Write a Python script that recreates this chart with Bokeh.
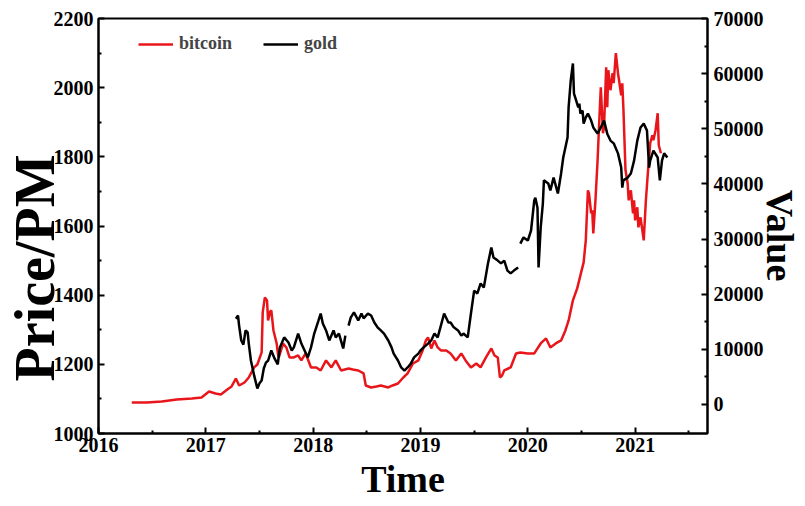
import numpy as np
from bokeh.plotting import figure
from bokeh.models import Range1d, LinearAxis, FixedTicker, Legend, LegendItem
from bokeh.embed import file_html
from bokeh.resources import INLINE

NaN = float("nan")

# Bitcoin value (right axis), by decimal year
btc_year = [
    2016.31, 2016.45, 2016.59, 2016.73, 2016.87, 2016.96, 2017.03, 2017.09, 2017.14, 2017.20,
    2017.24, 2017.28, 2017.31, 2017.36, 2017.40, 2017.42, 2017.45, 2017.48, 2017.52, 2017.53,
    2017.55, 2017.57, 2017.58, 2017.60, 2017.61, 2017.63, 2017.66, 2017.67, 2017.68, 2017.70,
    2017.72, 2017.75, 2017.78, 2017.82, 2017.86, 2017.89, 2017.93, 2017.98, 2018.03, 2018.07,
    2018.12, 2018.17, 2018.21, 2018.26, 2018.33, 2018.37, 2018.42, 2018.47, 2018.49, 2018.54,
    2018.59, 2018.63, 2018.70, 2018.74, 2018.79, 2018.84, 2018.88, 2018.93, 2018.98, 2019.02,
    2019.05, 2019.07, 2019.10, 2019.13, 2019.16, 2019.19, 2019.24, 2019.28, 2019.33, 2019.38,
    2019.42, 2019.47, 2019.52, 2019.56, 2019.61, 2019.66, 2019.69, 2019.72, 2019.74, 2019.76,
    2019.78, 2019.84, 2019.89, 2019.93, 2020.00, 2020.06, 2020.12, 2020.17, 2020.21, 2020.26,
    2020.31, 2020.35, 2020.38, 2020.42, 2020.46, 2020.49, 2020.52, 2020.54, 2020.56, 2020.57,
    2020.59, 2020.60, 2020.61, 2020.63, 2020.65, 2020.67, 2020.68, 2020.70, 2020.71, 2020.73,
    2020.74, 2020.75, 2020.77, 2020.79, 2020.80, 2020.82, 2020.84, 2020.85, 2020.87, 2020.88,
    2020.89, 2020.91, 2020.93, 2020.94, 2020.96, 2020.98, 2020.99, 2021.00, 2021.02, 2021.03,
    2021.05, 2021.08, 2021.10, 2021.12, 2021.13, 2021.14, 2021.16, 2021.17, 2021.19, 2021.21,
    2021.22, 2021.24,
]
btc_value = [
    360, 360, 540, 910, 1090, 1270, 2360, 2000, 1820, 2720,
    3270, 4720, 3450, 3990, 4900, 5630, 6720, 7260, 9440, 16700,
    19420, 18880, 15250, 16880, 17060, 13430, 11070, 9440, 8530, 9800,
    11070, 10350, 8530, 8530, 8890, 7990, 9260, 6720, 6720, 6170,
    7990, 6720, 7990, 6170, 6530, 6350, 6170, 5630, 3450, 3090,
    3270, 3450, 3090, 3450, 3810, 4900, 5630, 7440, 7990, 9800,
    11620, 12160, 10160, 11620, 10350, 9800, 9800, 9260, 7990, 9260,
    7990, 6720, 7440, 6720, 8530, 10160, 8890, 8530, 4900, 5260,
    6170, 6720, 9260, 9440, 9260, 9260, 11070, 11980, 10350, 11070,
    11620, 13430, 15250, 18880, 21050, 23410, 25770, 29770, 38840, 38300,
    34670, 35210, 31040, 37030, 44290, 53360, 57540, 49190, 50280, 61170,
    53910, 60620, 56990, 60080, 58260, 63710, 60080, 58810, 56080, 58260,
    53910, 42470, 40110, 37030, 38840, 34670, 37030, 33400, 35760, 32130,
    33940, 29770, 37030, 42470, 44830, 47370, 48820, 47920, 49730, 52820,
    47010, 45560,
]

# Gold price (left axis), by decimal year; NaN marks gaps in the series
gold_year = [
    2017.28, 2017.30, 2017.31, 2017.33, 2017.35, 2017.37, 2017.39, 2017.40, 2017.42, 2017.45,
    2017.48, 2017.50, 2017.52, 2017.54, 2017.56, 2017.58, 2017.61, 2017.64, 2017.67, 2017.69,
    2017.71, 2017.73, 2017.77, 2017.80, 2017.82, 2017.86, 2017.89, 2017.92, 2017.95, 2017.98,
    2018.01, 2018.05, 2018.07, 2018.09, 2018.12, 2018.15, 2018.19, 2018.21, 2018.24, 2018.28,
    2018.30, 2018.315, 2018.33, 2018.35, 2018.38, 2018.42, 2018.45, 2018.47, 2018.51, 2018.54,
    2018.57, 2018.60, 2018.63, 2018.66, 2018.70, 2018.73, 2018.75, 2018.79, 2018.82, 2018.85,
    2018.88, 2018.91, 2018.94, 2018.98, 2019.00, 2019.03, 2019.07, 2019.10, 2019.13, 2019.16,
    2019.19, 2019.22, 2019.26, 2019.28, 2019.31, 2019.35, 2019.38, 2019.40, 2019.44, 2019.47,
    2019.50, 2019.53, 2019.56, 2019.59, 2019.63, 2019.66, 2019.68, 2019.72, 2019.75, 2019.78,
    2019.81, 2019.84, 2019.87, 2019.91, 2019.92, 2019.93, 2019.96, 2020.00, 2020.03, 2020.06,
    2020.07, 2020.09, 2020.10, 2020.12, 2020.14, 2020.15, 2020.19, 2020.21, 2020.24, 2020.28,
    2020.31, 2020.33, 2020.37, 2020.38, 2020.40, 2020.42, 2020.43, 2020.45, 2020.47, 2020.48,
    2020.49, 2020.51, 2020.52, 2020.54, 2020.56, 2020.59, 2020.61, 2020.65, 2020.68, 2020.71,
    2020.74, 2020.77, 2020.80, 2020.84, 2020.87, 2020.88, 2020.89, 2020.93, 2020.96, 2020.99,
    2021.02, 2021.05, 2021.08, 2021.11, 2021.13, 2021.14, 2021.17, 2021.21, 2021.23, 2021.25,
    2021.27, 2021.30,
]
gold_price = [
    1332, 1341, 1312, 1269, 1257, 1298, 1292, 1260, 1211, 1168,
    1130, 1145, 1153, 1188, 1205, 1211, 1240, 1217, 1200, 1249,
    1263, 1278, 1263, 1240, 1249, 1289, 1260, 1240, 1220, 1249,
    1289, 1327, 1347, 1318, 1298, 1269, 1298, 1278, 1289, 1246,
    1283, NaN, 1312, 1335, 1350, 1327, 1347, 1333, 1347, 1341,
    1321, 1307, 1298, 1289, 1269, 1249, 1231, 1211, 1191, 1182,
    1191, 1202, 1220, 1231, 1240, 1249, 1260, 1269, 1289, 1278,
    1312, 1347, 1321, 1321, 1307, 1298, 1283, 1289, 1278, 1347,
    1413, 1405, 1434, 1422, 1494, 1538, 1509, 1500, 1492, 1500,
    1471, 1463, 1471, 1480, NaN, 1549, 1567, 1558, 1587, 1674,
    1682, 1653, 1480, 1596, 1665, 1732, 1723, 1703, 1740, 1694,
    1752, 1798, 1856, 1943, 2021, 2070, 1983, 1963, 1943, 1954,
    1925, 1934, 1896, 1914, 1925, 1905, 1885, 1867, 1885, 1905,
    1867, 1847, 1839, 1810, 1769, 1711, 1732, 1740, 1752, 1789,
    1847, 1885, 1896, 1876, 1769, 1789, 1818, 1798, 1732, 1789,
    1810, 1798,
]

year_ticks = [2016, 2017, 2018, 2019, 2020, 2021]
year_minor = [2016.5, 2017.5, 2018.5, 2019.5, 2020.5, 2021.5]
price_ticks = [1000, 1200, 1400, 1600, 1800, 2000, 2200]
price_minor = [1100, 1300, 1500, 1700, 1900, 2100]
value_ticks = [0, 10000, 20000, 30000, 40000, 50000, 60000, 70000]
value_minor = [5000, 15000, 25000, 35000, 45000, 55000, 65000]

SERIF = "Liberation Serif"
RED = "#e8161b"
NBSP = "\u00a0"

p = figure(
    width=805, height=506, output_backend="svg", toolbar_location=None, title=None,
    x_range=Range1d(2016, 2021.674), y_range=Range1d(1000, 2200),
    min_border_left=97, min_border_right=98, min_border_top=18, min_border_bottom=73,
)
p.background_fill_color = "white"
p.border_fill_color = "white"
p.outline_line_color = "black"
p.outline_line_width = 2
p.xgrid.visible = False
p.ygrid.visible = False

p.extra_y_ranges = {"btc": Range1d(-5260, 70000)}
right_axis = LinearAxis(y_range_name="btc")
p.add_layout(right_axis, "right")

bottom_axis = p.xaxis[0]
left_axis = p.yaxis[0]
bottom_axis.ticker = FixedTicker(ticks=year_ticks, minor_ticks=year_minor)
left_axis.ticker = FixedTicker(ticks=price_ticks, minor_ticks=price_minor)
right_axis.ticker = FixedTicker(ticks=value_ticks, minor_ticks=value_minor)

for ax in [bottom_axis, left_axis, right_axis]:
    ax.axis_line_width = 2
    ax.axis_line_color = "black"
    ax.major_tick_line_width = 2
    ax.minor_tick_line_width = 2
    ax.major_tick_line_color = "black"
    ax.minor_tick_line_color = "black"
    ax.major_tick_in = 6
    ax.major_tick_out = 0
    ax.minor_tick_in = 3
    ax.minor_tick_out = 0
    ax.major_label_text_font = SERIF
    ax.major_label_text_font_style = "bold"
    ax.major_label_text_font_size = "20px"
    ax.major_label_text_color = "black"
    ax.major_label_standoff = 6
    ax.axis_label_text_font = SERIF
    ax.axis_label_text_font_style = "bold"
    ax.axis_label_text_color = "black"

# axis titles; the non-breaking spaces shift each title along its axis
left_axis.axis_label = "Price/PM" + NBSP * 6
left_axis.axis_label_text_font_size = "56px"
left_axis.major_label_standoff = 5
left_axis.axis_label_standoff = -15

bottom_axis.axis_label = "Time"
bottom_axis.axis_label_text_font_size = "38px"
bottom_axis.major_label_standoff = 4
bottom_axis.axis_label_standoff = 3

right_axis.axis_label = NBSP * 2 + "Value"
right_axis.axis_label_text_font_size = "38px"
right_axis.axis_label_standoff = -8

r_btc = p.line(btc_year, np.array(btc_value, dtype=float), y_range_name="btc",
               line_color=RED, line_width=2.5)
r_gold = p.line(gold_year, np.array(gold_price, dtype=float),
                line_color="black", line_width=2.5)

legend = Legend(
    items=[LegendItem(label="bitcoin", renderers=[r_btc]),
           LegendItem(label="gold", renderers=[r_gold])],
    orientation="horizontal", location=(40, 379), padding=0, margin=0, spacing=31,
    glyph_width=35, glyph_height=20, label_height=20, label_standoff=6,
    label_text_font=SERIF, label_text_font_style="bold", label_text_font_size="18px",
    background_fill_alpha=0, border_line_alpha=0,
)
p.add_layout(legend)

open("out.html", "w").write(file_html(p, INLINE))
